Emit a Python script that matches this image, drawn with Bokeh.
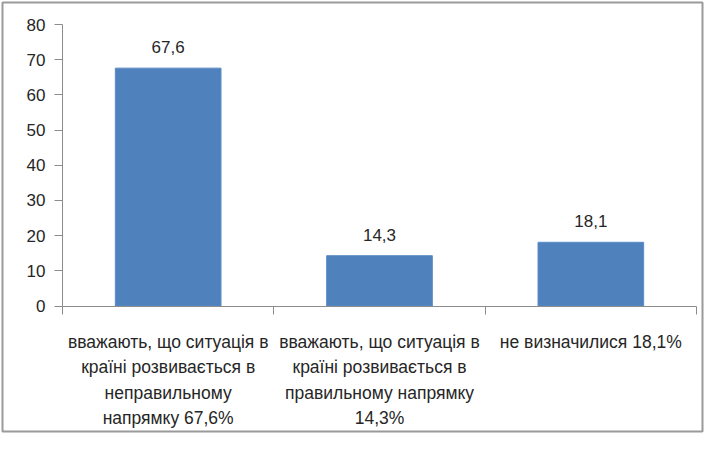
from bokeh.plotting import figure
from bokeh.models import ColumnDataSource, LabelSet, FixedTicker, Range1d, LinearAxis
from bokeh.core.properties import value
from bokeh.embed import file_html
from bokeh.resources import INLINE

categories = [
    "вважають, що ситуація в\nкраїні розвивається в\nнеправильному\nнапрямку 67,6%",
    "вважають, що ситуація в\nкраїні розвивається в\nправильному напрямку\n14,3%",
    "не визначилися 18,1%",
]
values = [67.6, 14.3, 18.1]
value_labels = ["67,6", "14,3", "18,1"]
y_ticks = [0, 10, 20, 30, 40, 50, 60, 70, 80]

FONT = "Liberation Sans"
TXT = "#262626"
GRID = "#b8b8b8"
AXIS = "#8c8c8c"

W, H = 704, 433
# plot area (px, canvas coords) and chart border
PL, PR, PT, PB = 62, 696, 24, 305.5
B = 2
n = len(categories)
ymax = y_ticks[-1]
ux = (PR - PL) / n
uy = (PB - PT) / ymax

xs = [i + 0.5 for i in range(n)]
src = ColumnDataSource(dict(x=xs, top=values, lab=value_labels))

p = figure(width=W, height=H, output_backend="svg", toolbar_location=None,
           x_range=Range1d(-(PL - B) / ux, n + (W - B - PR) / ux),
           y_range=Range1d(-(H - B - PB) / uy, ymax + (PT - B) / uy),
           x_axis_type=None, y_axis_type=None,
           min_border_left=B, min_border_right=B, min_border_top=B, min_border_bottom=B)
p.outline_line_color = "#9a9a9a"
p.outline_line_width = 2
p.background_fill_color = "white"
p.border_fill_color = "white"

p.vbar(x="x", top="top", width=0.5, bottom=0, source=src,
       fill_color="#4f81bd", line_color="#5b8cc6", line_width=1)

p.add_layout(LabelSet(x="x", y="top", text="lab", source=src, text_align="center",
                      text_baseline="alphabetic", y_offset=15, text_font=value(FONT),
                      text_font_size=value("17px"), text_color=TXT))

# x axis
xaxis = LinearAxis(fixed_location=0, bounds=(0, n),
                   ticker=FixedTicker(ticks=xs, minor_ticks=list(range(n + 1))))
xaxis.major_label_overrides = {x: c for x, c in zip(xs, categories)}
xaxis.major_tick_line_color = None
xaxis.major_tick_out = 8
xaxis.minor_tick_in = 0
xaxis.minor_tick_out = 8
xaxis.minor_tick_line_color = AXIS
xaxis.axis_line_color = AXIS
xaxis.major_label_text_font = FONT
xaxis.major_label_text_font_size = "17.5px"
xaxis.major_label_text_color = TXT
xaxis.major_label_text_line_height = 1.27
xaxis.major_label_standoff = 18
xaxis.major_label_orientation = "horizontal"
p.add_layout(xaxis, "below")

# y axis
yaxis = LinearAxis(fixed_location=0, bounds=(0, ymax), ticker=FixedTicker(ticks=y_ticks))
yaxis.minor_tick_line_color = None
yaxis.major_tick_in = 0
yaxis.major_tick_out = 8
yaxis.major_tick_line_color = AXIS
yaxis.axis_line_color = AXIS
yaxis.major_label_text_font = FONT
yaxis.major_label_text_font_size = "17px"
yaxis.major_label_text_color = TXT
yaxis.major_label_standoff = 9
p.add_layout(yaxis, "left")

p.xgrid.grid_line_color = None
p.ygrid.ticker = FixedTicker(ticks=y_ticks)
p.ygrid.grid_line_color = GRID
p.ygrid.grid_line_width = 1
p.ygrid.bounds = (0, ymax)
p.ygrid.cross_bounds = (0, n)

open("out.html", "w").write(file_html(p, INLINE))
